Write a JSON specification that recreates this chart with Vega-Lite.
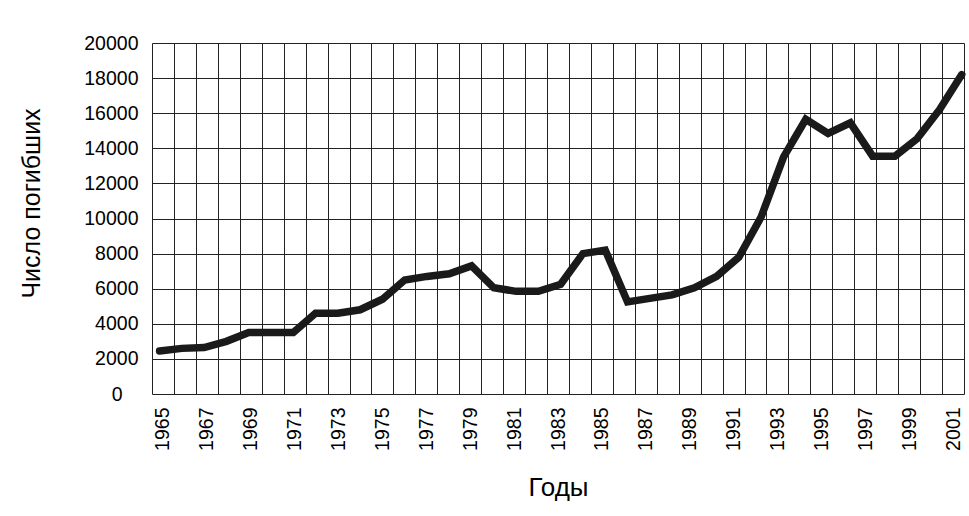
{
  "$schema": "https://vega.github.io/schema/vega-lite/v6.json",
  "width": 812,
  "height": 351,
  "autosize": {"type": "none"},
  "padding": {"left": 152, "top": 43, "right": 5, "bottom": 122},
  "background": "white",
  "config": {"view": {"stroke": null}, "font": "Liberation Sans"},
  "data": {
    "values": [
      {"year": 1965, "deaths": 2450},
      {"year": 1966, "deaths": 2600},
      {"year": 1967, "deaths": 2650},
      {"year": 1968, "deaths": 3000},
      {"year": 1969, "deaths": 3500},
      {"year": 1970, "deaths": 3500},
      {"year": 1971, "deaths": 3500},
      {"year": 1972, "deaths": 4600},
      {"year": 1973, "deaths": 4600},
      {"year": 1974, "deaths": 4800},
      {"year": 1975, "deaths": 5400},
      {"year": 1976, "deaths": 6500},
      {"year": 1977, "deaths": 6700},
      {"year": 1978, "deaths": 6850},
      {"year": 1979, "deaths": 7300},
      {"year": 1980, "deaths": 6050},
      {"year": 1981, "deaths": 5850},
      {"year": 1982, "deaths": 5850},
      {"year": 1983, "deaths": 6250},
      {"year": 1984, "deaths": 8000},
      {"year": 1985, "deaths": 8200},
      {"year": 1986, "deaths": 5250},
      {"year": 1987, "deaths": 5450},
      {"year": 1988, "deaths": 5650},
      {"year": 1989, "deaths": 6050},
      {"year": 1990, "deaths": 6700},
      {"year": 1991, "deaths": 7800},
      {"year": 1992, "deaths": 10100},
      {"year": 1993, "deaths": 13500},
      {"year": 1994, "deaths": 15650},
      {"year": 1995, "deaths": 14850},
      {"year": 1996, "deaths": 15450},
      {"year": 1997, "deaths": 13550},
      {"year": 1998, "deaths": 13550},
      {"year": 1999, "deaths": 14550},
      {"year": 2000, "deaths": 16200},
      {"year": 2001, "deaths": 18200}
    ]
  },
  "encoding": {
    "y": {
      "field": "deaths",
      "type": "quantitative",
      "scale": {"domain": [0, 20000], "nice": false},
      "axis": {
        "title": "Число погибших",
        "values": [0, 2000, 4000, 6000, 8000, 10000, 12000, 14000, 16000, 18000, 20000],
        "format": "d",
        "grid": true,
        "gridColor": "#222",
        "gridWidth": 1,
        "ticks": false,
        "domain": false,
        "labelFontSize": 19.5,
        "labelPadding": {"condition": {"test": "datum.value == 0", "value": 30}, "value": 14},
        "labelColor": "#000",
        "labelOverlap": false,
        "titleFontSize": 25,
        "titleFontWeight": "normal",
        "titleColor": "#000",
        "titleAngle": 270,
        "titleAlign": "center",
        "titleBaseline": "middle",
        "titleX": -121,
        "titleY": 160
      }
    }
  },
  "layer": [
    {
      "mark": {"type": "point", "opacity": 0},
      "encoding": {
        "x": {
          "field": "year",
          "type": "ordinal",
          "scale": {"type": "band", "paddingInner": 0, "paddingOuter": 0},
          "axis": {
            "title": "Годы",
            "tickBand": "extent",
            "grid": true,
            "gridColor": "#222",
            "gridWidth": 1,
            "ticks": false,
            "domain": false,
            "labelAngle": 270,
            "labelAlign": "right",
            "labelBaseline": "middle",
            "labelPadding": 13,
            "labelFontSize": 19.5,
            "labelColor": "#000",
            "labelOverlap": false,
            "labelExpr": "datum.value % 2 == 1 ? datum.label : ''",
            "titleFontSize": 26,
            "titleFontWeight": "normal",
            "titleColor": "#000",
            "titleBaseline": "alphabetic",
            "titleY": 101
          }
        }
      }
    },
    {
      "mark": {"type": "line", "color": "#1a1a1a", "strokeWidth": 7.5, "strokeCap": "round"},
      "encoding": {
        "x": {
          "field": "year",
          "type": "quantitative",
          "scale": {"domain": [1964.66, 2001.1], "nice": false, "zero": false},
          "axis": null
        }
      }
    }
  ],
  "resolve": {"scale": {"x": "independent"}}
}
